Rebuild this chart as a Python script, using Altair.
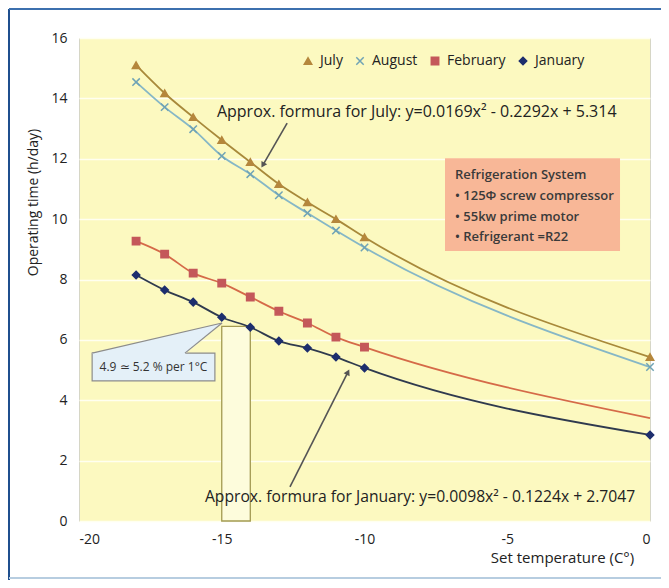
import altair as alt
import pandas as pd

# ---------------- data ----------------
temps = [-18, -17, -16, -15, -14, -13, -12, -11, -10, 0]
july = [15.10, 14.17, 13.38, 12.62, 11.89, 11.16, 10.56, 10.00, 9.40, 5.43]
august = [14.54, 13.71, 12.98, 12.09, 11.49, 10.79, 10.20, 9.62, 9.06, 5.10]
february = [9.27, 8.84, 8.21, 7.88, 7.42, 6.95, 6.56, 6.09, 5.76, 3.41]
january = [8.15, 7.65, 7.25, 6.75, 6.42, 5.96, 5.73, 5.43, 5.07, 2.85]
february_has_marker = [True] * 9 + [False]

series_names = ["July", "August", "February", "January"]
marker_strokes = ["#b5873c", "#6fa3b5", "#c4585a", "#1d2e6e"]
marker_fills = ["#b5873c", "transparent", "#c4585a", "#1d2e6e"]
line_colors = ["#a8893a", "#86b7c6", "#d56a48", "#2f3a4e"]
shapes = ["triangle-up", "M-1,-1L1,1M1,-1L-1,1", "square", "diamond"]

x_ticks = [-20, -15, -10, -5, 0]
y_ticks = [0, 2, 4, 6, 8, 10, 12, 14, 16]

# annotation anchors (data coordinates)
july_formula = "Approx. formura for July: y=0.0169x\u00b2 - 0.2292x + 5.314"
july_formula_pos = [-15.17, 13.54]
july_arrow = [-12.71, 13.18, -13.56, 11.79]
jan_formula = "Approx. formura for January: y=0.0098x\u00b2 - 0.1224x + 2.7047"
jan_formula_pos = [-15.59, 0.79]
jan_arrow = [-12.61, 1.13, -10.58, 4.93]
band = [-15, -14, 0, 6.45]
callout_text = "4.9 \u2243 5.2 % per 1\u00b0C"
callout_box = [-19.54, -15.24, 4.64, 5.56]
callout_wedge_x = [-19.54, -16.29, -14.99]
callout_wedge_top = [5.56, 6.27, 6.56]
callout_wedge_bottom = [5.53, 5.53, 6.56]
info_lines = ["Refrigeration System", "\u2022 125\u03a6 screw compressor",
              "\u2022 55kw prime motor", "\u2022 Refrigerant =R22"]
info_y = [11.46, 10.76, 10.07, 9.40]
info_x = -6.83
info_box = [-7.18, -1.05, 8.94, 12.02]

FONT = "Open Sans"
TXT = "#222222"

rows = []
for name, vals in zip(series_names, [july, august, february, january]):
    for i, (t, v) in enumerate(zip(temps, vals)):
        marker = february_has_marker[i] if name == "February" else True
        rows.append({"series": name, "temp": t, "hours": v, "marker": marker})
df = pd.DataFrame(rows)

xs = alt.Scale(domain=[-20, 0], nice=False, zero=False, padding=0)
ys = alt.Scale(domain=[0, 16], nice=False, padding=0)

X = alt.X("temp:Q", scale=xs, axis=alt.Axis(
    values=x_ticks, title="Set temperature (C\u00b0)", grid=False, ticks=False, domain=False,
    labelExpr="'' + datum.value",
    labelPadding=11, labelFontSize=14, labelColor=TXT, labelFont=FONT,
    titleFont=FONT, titleFontSize=15, titleFontWeight="normal", titleColor=TXT,
    titleX=483, titleY=36, titleAlign="center", titleBaseline="middle"))
Y = alt.Y("hours:Q", scale=ys, axis=alt.Axis(
    values=y_ticks, title="Operating time (h/day)", grid=True, gridColor="#fffff0",
    gridWidth=1.5, ticks=False, domain=False, labelPadding=12, labelFontSize=14,
    labelColor=TXT, labelFont=FONT, titleFont=FONT, titleFontSize=14,
    titleFontWeight="normal", titleColor=TXT, titleX=-46, titleY=164,
    titleAlign="center", titleBaseline="middle"))

base = alt.Chart(df)

lines = base.mark_line(interpolate="monotone", strokeWidth=1.8).encode(
    x=X, y=Y,
    color=alt.Color("series:N", scale=alt.Scale(domain=series_names, range=line_colors), legend=None),
    detail="series:N",
)

points = base.transform_filter("datum.marker").mark_point(size=55, strokeWidth=1.5, opacity=1).encode(
    x=alt.X("temp:Q", scale=xs),
    y=alt.Y("hours:Q", scale=ys),
    fill=alt.Fill("series:N", scale=alt.Scale(domain=series_names, range=marker_fills),
                  legend=alt.Legend(title=None, orient="none", direction="horizontal",
                                    legendX=222, legendY=16, columnPadding=10, labelFontSize=14,
                                    labelFont=FONT, labelColor=TXT, symbolSize=55,
                                    symbolStrokeWidth=1.5, labelOffset=5)),
    stroke=alt.Stroke("series:N", scale=alt.Scale(domain=series_names, range=marker_strokes)),
    shape=alt.Shape("series:N", scale=alt.Scale(domain=series_names, range=shapes)),
)

one = pd.DataFrame({"a": [0]})

band_rect = alt.Chart(one).mark_rect(fill="#fdfcdc", stroke="#a39a52", strokeWidth=1.3).encode(
    x=alt.datum(band[0], scale=xs), x2=alt.datum(band[1]),
    y=alt.datum(band[2], scale=ys), y2=alt.datum(band[3]))

info_rect = alt.Chart(one).mark_rect(fill="#f8b797").encode(
    x=alt.datum(info_box[0], scale=xs), x2=alt.datum(info_box[1]),
    y=alt.datum(info_box[2], scale=ys), y2=alt.datum(info_box[3]))

info_df = pd.DataFrame({"t": info_lines, "y": info_y, "x": [info_x] * 4})
info_text = alt.Chart(info_df).mark_text(align="left", baseline="middle", font=FONT,
                                         fontSize=13, fontWeight=600, color="#3a3a3a").encode(
    x=alt.X("x:Q", scale=xs), y=alt.Y("y:Q", scale=ys), text="t:N")

cb_rect = alt.Chart(one).mark_rect(fill="#e4f0f8", stroke="#8c8c8c", strokeWidth=1.2).encode(
    x=alt.datum(callout_box[0], scale=xs), x2=alt.datum(callout_box[1]),
    y=alt.datum(callout_box[2], scale=ys), y2=alt.datum(callout_box[3]))
wedge_df = pd.DataFrame({"x": callout_wedge_x, "y": callout_wedge_top, "y2": callout_wedge_bottom})
cb_wedge = alt.Chart(wedge_df).mark_area(fill="#e4f0f8", opacity=1).encode(
    x=alt.X("x:Q", scale=xs), y=alt.Y("y:Q", scale=ys), y2="y2:Q")
edge_df = pd.DataFrame({
    "x": [callout_wedge_x[0], callout_wedge_x[1]],
    "y": [callout_wedge_top[0], callout_wedge_bottom[1] + 0.03],
    "x2": [callout_wedge_x[2], callout_wedge_x[2]],
    "y2": [callout_wedge_top[2], callout_wedge_top[2]],
})
cb_edges = alt.Chart(edge_df).mark_rule(color="#8c8c8c", strokeWidth=1.2).encode(
    x=alt.X("x:Q", scale=xs), y=alt.Y("y:Q", scale=ys), x2="x2:Q", y2="y2:Q")
cb_text = alt.Chart(one).mark_text(font=FONT, fontSize=12, color="#333333", align="center",
                                   baseline="middle").encode(
    x=alt.datum((callout_box[0] + callout_box[1]) / 2, scale=xs),
    y=alt.datum((callout_box[2] + callout_box[3]) / 2, scale=ys),
    text=alt.value(callout_text))

arrow_df = pd.DataFrame({
    "x": [july_arrow[0], jan_arrow[0]], "y": [july_arrow[1], jan_arrow[1]],
    "x2": [july_arrow[2], jan_arrow[2]], "y2": [july_arrow[3], jan_arrow[3]],
    "ang": [210, 27],
})
arrow_lines = alt.Chart(arrow_df).mark_rule(color="#555555", strokeWidth=1.6).encode(
    x=alt.X("x:Q", scale=xs), y=alt.Y("y:Q", scale=ys), x2="x2:Q", y2="y2:Q")
arrow_heads = alt.Chart(arrow_df).mark_point(shape="triangle-up", filled=True, size=45,
                                             color="#555555", opacity=1).encode(
    x=alt.X("x2:Q", scale=xs), y=alt.Y("y2:Q", scale=ys), angle=alt.Angle("ang:Q", scale=None))

formula_df = pd.DataFrame({"t": [july_formula, jan_formula],
                           "x": [july_formula_pos[0], jan_formula_pos[0]],
                           "y": [july_formula_pos[1], jan_formula_pos[1]],
                           "fs": [16, 15.7]})
formula_text = alt.Chart(formula_df).mark_text(align="left", baseline="middle", font=FONT,
                                               color=TXT).encode(
    x=alt.X("x:Q", scale=xs), y=alt.Y("y:Q", scale=ys), text="t:N",
    size=alt.Size("fs:Q", scale=None, legend=None))

# outer frame of the figure
frame_left = alt.Chart(one).mark_rule(color="#1f4f8e", strokeWidth=2).encode(
    x=alt.value(-70), y=alt.value(-29), y2=alt.value(545))
frame_top = alt.Chart(one).mark_rule(color="#3c70ae", strokeWidth=2).encode(
    x=alt.value(-70), x2=alt.value(600), y=alt.value(-29))
frame_bottom = alt.Chart(one).mark_rule(color="#b7cde0", strokeWidth=2).encode(
    x=alt.value(-70), x2=alt.value(600), y=alt.value(540))

chart = alt.layer(
    band_rect, info_rect, info_text, cb_rect, cb_wedge, cb_edges, cb_text,
    lines, points, arrow_lines, arrow_heads, formula_text,
    frame_left, frame_top, frame_bottom,
).resolve_scale(
    fill="independent", stroke="independent", shape="independent", color="independent"
).properties(
    width=571, height=483,
    autosize=alt.AutoSizeParams(type="none"),
    padding={"left": 71, "top": 30, "right": 11, "bottom": 59},
).configure(
    background="white", font=FONT
).configure_view(
    fill="#fcf9c0", stroke="#d6d6c6", strokeWidth=1
)

chart.save("out.html", embed_options={"renderer": "svg", "actions": False})
